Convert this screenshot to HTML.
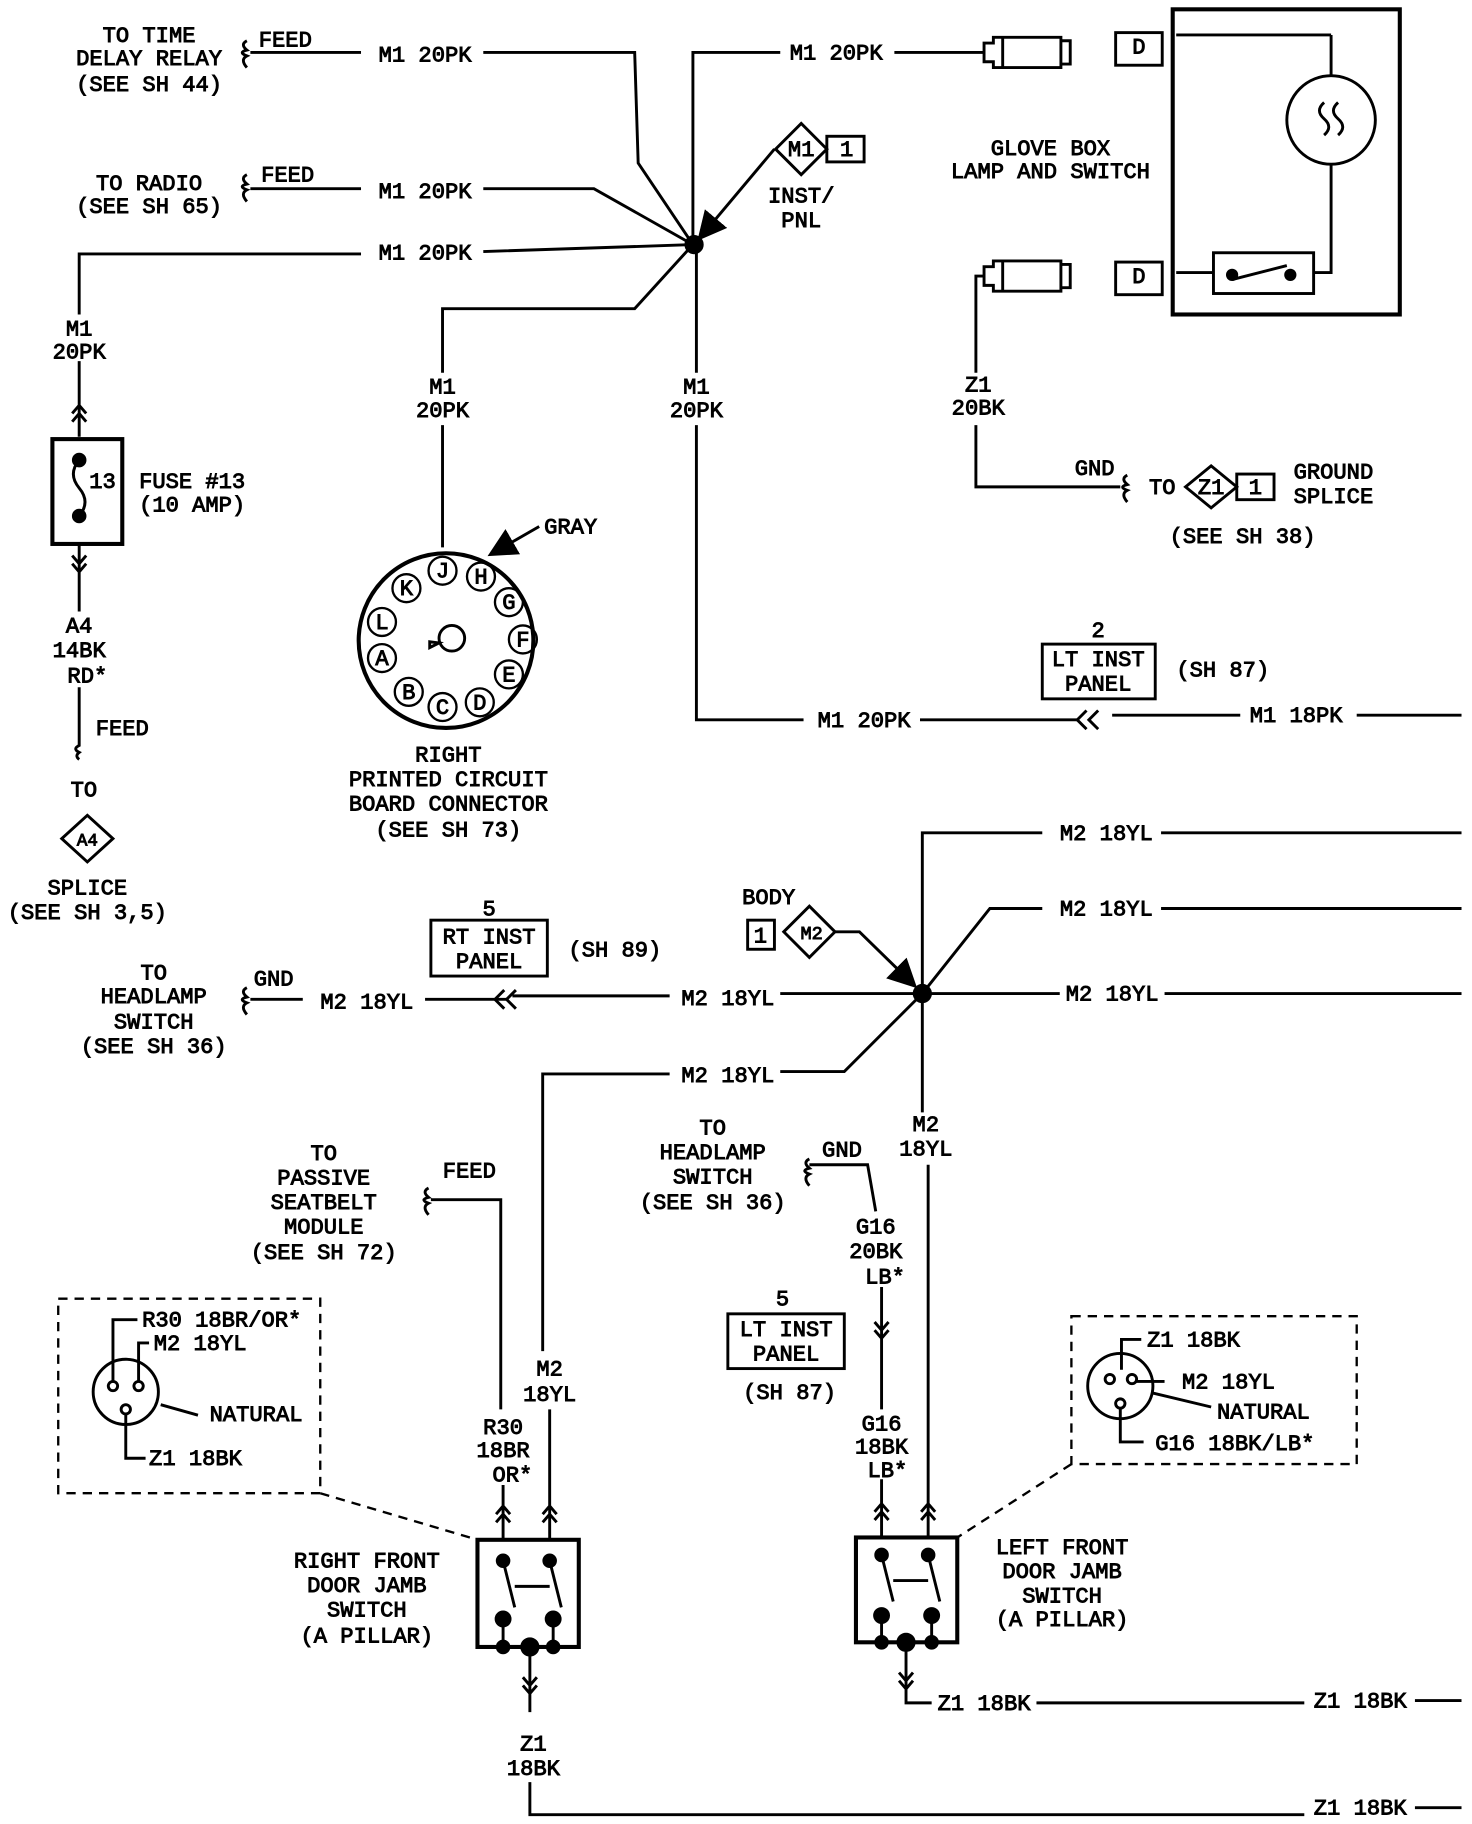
<!DOCTYPE html>
<html><head><meta charset="utf-8"><style>
html,body{margin:0;padding:0;background:#fff;}
svg{display:block}
text{font-family:"Liberation Mono",monospace;font-size:19px;fill:#000;text-anchor:middle;stroke:#000;stroke-width:0.8}
.l{text-anchor:start}
</style></head><body>
<svg width="1472" height="1824" viewBox="0 0 1264 1566" preserveAspectRatio="none" xmlns="http://www.w3.org/2000/svg">
<defs><marker id="ar" markerWidth="10" markerHeight="10" refX="8" refY="5" orient="auto"><path d="M0,0 L10,5 L0,10z"/></marker></defs>
<g fill="none" stroke="#000" stroke-width="2.5">
<path d="M215,45 H310 M415,45 H545 L548,140 L595,210"/>
<path d="M215,162 H310 M415,162 H510 L595,210"/>
<path d="M68,270 V218 H310 M415,216 L595,210"/>
<path d="M595,210 V45 H670 M768,45 H845"/>
<path d="M595,210 L545,265 H380 V320 M380,365 V470"/>
<path d="M598,210 V320 M598,365 V618 H690 M790,618 H925 M955,614 H1065 M1165,614 H1255"/>
<path d="M933,610 l-8,8 l8,8 M943,610 l-8,8 l8,8"/>
<path d="M665,128 L602,203" marker-end="url(#ar)"/>
<path d="M212,35 q-6,3 0,8 q-8,2 0,5 q-6,3 0,10"/>
<path d="M212,150 q-6,3 0,8 q-8,2 0,5 q-6,3 0,10"/>
<rect x="1007" y="8" width="195" height="262" stroke-width="3.5"/>
<circle cx="1143" cy="103" r="38"/>
<path d="M1143,30 H1010 M1143,65 V30 M1143,141 V234 H1128 M1042,234 H1010"/>
<rect x="1042" y="217" width="86" height="35"/>
<path d="M1058,240 L1105,228"/><circle cx="1058" cy="236" r="4" fill="#000"/><circle cx="1108" cy="236" r="4" fill="#000"/>
<path d="M1137,88 q-8,7 0,14 q8,7 0,14 M1149,88 q-8,7 0,14 q8,7 0,14"/>
<rect x="958" y="28" width="40" height="28"/><rect x="958" y="225" width="40" height="28"/>
<path d="M845,37 h8 v-5 h8 v26 h-8 v-5 h-8z M861,32 h50 v26 h-50 M911,35 h8 v20 h-8"/>
<path d="M845,229 h8 v-5 h8 v26 h-8 v-5 h-8z M861,224 h50 v26 h-50 M911,227 h8 v20 h-8"/>
<path d="M845,237 H838 V320 M838,365 V418 H962 M968,408 q-6,3 0,8 q-8,2 0,5 q-6,3 0,10"/>
<path d="M1040,400 L1062,418 L1040,436 L1018,418Z"/><rect x="1062" y="407" width="32" height="22"/>
<path d="M688,106 L710,128 L688,150 L666,128Z"/><rect x="710" y="117" width="32" height="22"/>
<path d="M68,310 V375 M62,355 l6,-7 l6,7 M62,362 l6,-7 l6,7"/>
<rect x="45" y="377" width="60" height="90" stroke-width="3.5"/>
<path d="M68,395 q-10,12 0,24 q10,12 0,24"/><circle cx="68" cy="395" r="5" fill="#000"/><circle cx="68" cy="443" r="5" fill="#000"/>
<path d="M68,467 V525 M62,477 l6,7 l6,-7 M62,484 l6,7 l6,-7 M68,590 V640 q-6,3 0,6 q-4,3 0,6"/>
<path d="M75,700 L97,720 L75,740 L53,720Z"/>
<circle cx="383" cy="550" r="75" stroke-width="3.5"/>
<circle cx="388" cy="548" r="11"/><path d="M377,552 l-8,4 v-5z"/>
<g stroke-width="2">
<circle cx="380" cy="490" r="12"/><circle cx="413" cy="495" r="12"/><circle cx="437" cy="517" r="12"/><circle cx="449" cy="549" r="12"/><circle cx="437" cy="579" r="12"/><circle cx="412" cy="603" r="12"/><circle cx="380" cy="607" r="12"/><circle cx="351" cy="594" r="12"/><circle cx="328" cy="565" r="12"/><circle cx="328" cy="534" r="12"/><circle cx="349" cy="505" r="12"/>
</g>
<path d="M463,452 L423,475" marker-end="url(#ar)"/>
<rect x="895" y="553" width="97" height="47"/>
<path d="M792,853 V715 H895 M997,715 H1255"/>
<path d="M792,853 L850,780 H895 M997,780 H1255"/>
<path d="M792,853 H910 M1000,853 H1255"/>
<path d="M792,853 H670 M575,855 H440 M365,858 H435 M260,858 H215"/>
<path d="M433,850 l-8,8 l8,8 M443,850 l-8,8 l8,8"/>
<path d="M212,848 q-6,3 0,8 q-8,2 0,5 q-6,3 0,10"/>
<rect x="370" y="790" width="100" height="48"/>
<rect x="642" y="790" width="23" height="25"/><path d="M695,778 L717,800 L695,822 L673,800Z"/>
<path d="M717,800 L738,800 L784,845" marker-end="url(#ar)"/>
<circle cx="792" cy="853" r="7" fill="#000"/><circle cx="596" cy="210" r="7" fill="#000"/>
<path d="M792,853 L725,920 H670 M575,922 H466 V1160 M472,1210 V1322 M466,1300 l6,-7 l6,7 M466,1307 l6,-7 l6,7"/>
<path d="M792,853 V955 M797,1000 V1320 M791,1298 l6,-7 l6,7 M791,1305 l6,-7 l6,7"/>
<path d="M695,1000 H745 L752,1040 M695,995 q-6,3 0,8 q-8,2 0,5 q-6,3 0,10"/>
<path d="M757,1105 V1210 M751,1135 l6,7 l6,-7 M751,1142 l6,7 l6,-7 M757,1270 V1320 M751,1298 l6,-7 l6,7 M751,1305 l6,-7 l6,7"/>
<rect x="625" y="1128" width="100" height="47"/>
<path d="M370,1030 H430 V1210 M432,1275 V1322 M426,1300 l6,-7 l6,7 M426,1307 l6,-7 l6,7 M368,1020 q-6,3 0,8 q-8,2 0,5 q-6,3 0,10"/>
<g stroke-dasharray="8,6" stroke-width="2"><rect x="50" y="1115" width="225" height="167"/><rect x="920" y="1130" width="245" height="127"/><path d="M275,1282 L410,1322 M920,1257 L822,1320"/></g>
<circle cx="108" cy="1195" r="28"/><circle cx="97" cy="1190" r="4"/><circle cx="119" cy="1190" r="4"/><circle cx="108" cy="1210" r="4"/>
<path d="M97,1186 V1133 H118 M119,1186 V1153 H128 M108,1214 V1252 H125 M170,1215 L138,1206" />
<circle cx="962" cy="1190" r="28"/><circle cx="953" cy="1184" r="4"/><circle cx="972" cy="1184" r="4"/><circle cx="962" cy="1205" r="4"/>
<path d="M963,1176 V1150 H980 M976,1186 H1000 M1040,1208 L990,1196 M962,1209 V1238 H982"/>
<rect x="410" y="1322" width="87" height="92" stroke-width="3.5"/>
<rect x="735" y="1320" width="87" height="90" stroke-width="3.5"/>
<g fill="#000"><circle cx="432" cy="1340" r="5"/><circle cx="472" cy="1340" r="5"/><circle cx="432" cy="1390" r="6"/><circle cx="475" cy="1390" r="6"/><circle cx="432" cy="1414" r="5"/><circle cx="455" cy="1414" r="7"/><circle cx="475" cy="1414" r="5"/>
<circle cx="757" cy="1335" r="5"/><circle cx="797" cy="1335" r="5"/><circle cx="757" cy="1387" r="6"/><circle cx="800" cy="1387" r="6"/><circle cx="757" cy="1410" r="5"/><circle cx="778" cy="1410" r="7"/><circle cx="800" cy="1410" r="5"/></g>
<path d="M432,1340 L442,1380 M472,1340 L482,1380 M432,1390 V1414 M475,1390 V1414 M442,1362 H472" />
<path d="M757,1335 L767,1375 M797,1335 L807,1375 M757,1387 V1410 M800,1387 V1410 M767,1357 H797"/>
<path d="M455,1414 V1470 M449,1440 l6,7 l6,-7 M449,1447 l6,7 l6,-7 M455,1530 V1558 H1120 M1215,1552 H1255"/>
<path d="M778,1410 V1462 H800 M772,1436 l6,7 l6,-7 M772,1443 l6,7 l6,-7 M890,1462 H1120 M1215,1460 H1255"/>
</g>
<text x="128" y="36">TO TIME</text><text x="128" y="56">DELAY RELAY</text><text x="128" y="78">(SEE SH 44)</text>
<text x="245" y="40">FEED</text><text x="365" y="53">M1 20PK</text>
<text x="128" y="163">TO RADIO</text><text x="128" y="183">(SEE SH 65)</text>
<text x="247" y="156">FEED</text><text x="365" y="170">M1 20PK</text><text x="365" y="223">M1 20PK</text>
<text x="718" y="51">M1 20PK</text>
<text x="688" y="134">M1</text><text x="727" y="134">1</text><text x="688" y="174">INST/</text><text x="688" y="195">PNL</text>
<text x="902" y="133">GLOVE BOX</text><text x="902" y="153">LAMP AND SWITCH</text>
<text x="978" y="46">D</text><text x="978" y="243">D</text>
<text x="380" y="338">M1</text><text x="380" y="358">20PK</text>
<text x="598" y="338">M1</text><text x="598" y="358">20PK</text>
<text x="840" y="336">Z1</text><text x="840" y="356">20BK</text>
<text x="940" y="408">GND</text><text x="998" y="424">TO</text><text x="1040" y="424">Z1</text><text x="1078" y="424">1</text>
<text x="1145" y="411">GROUND</text><text x="1145" y="432">SPLICE</text><text x="1067" y="466">(SEE SH 38)</text>
<text x="68" y="288">M1</text><text x="68" y="308">20PK</text>
<text x="88" y="419">13</text><text x="165" y="419">FUSE #13</text><text x="165" y="439">(10 AMP)</text>
<text x="68" y="543">A4</text><text x="68" y="564">14BK</text><text x="75" y="586">RD*</text>
<text x="105" y="631">FEED</text><text x="72" y="684">TO</text><text x="75" y="726" style="font-size:15px">A4</text>
<text x="75" y="768">SPLICE</text><text x="75" y="789">(SEE SH 3,5)</text>
<text x="490" y="458">GRAY</text>
<g style="font-size:16px"><text x="380" y="496">J</text><text x="413" y="501">H</text><text x="437" y="523">G</text><text x="449" y="555">F</text><text x="437" y="585">E</text><text x="412" y="609">D</text><text x="380" y="613">C</text><text x="351" y="600">B</text><text x="328" y="571">A</text><text x="328" y="540">L</text><text x="349" y="511">K</text></g>
<text x="385" y="654">RIGHT</text><text x="385" y="675">PRINTED CIRCUIT</text><text x="385" y="696">BOARD CONNECTOR</text><text x="385" y="718">(SEE SH 73)</text>
<text x="943" y="547">2</text><text x="943" y="572">LT INST</text><text x="943" y="593">PANEL</text><text x="1050" y="581">(SH 87)</text>
<text x="742" y="624">M1 20PK</text><text x="1113" y="620">M1 18PK</text>
<text x="950" y="721">M2 18YL</text><text x="950" y="786">M2 18YL</text><text x="955" y="859">M2 18YL</text>
<text x="660" y="776">BODY</text><text x="653" y="809">1</text><text x="697" y="806" style="font-size:16px">M2</text>
<text x="420" y="786">5</text><text x="420" y="810">RT INST</text><text x="420" y="831">PANEL</text><text x="528" y="821">(SH 89)</text>
<text x="625" y="863">M2 18YL</text><text x="315" y="866">M2 18YL</text><text x="235" y="846">GND</text>
<text x="132" y="841">TO</text><text x="132" y="861">HEADLAMP</text><text x="132" y="883">SWITCH</text><text x="132" y="904">(SEE SH 36)</text>
<text x="625" y="929">M2 18YL</text>
<text x="795" y="971">M2</text><text x="795" y="992">18YL</text>
<text x="612" y="974">TO</text><text x="612" y="995">HEADLAMP</text><text x="612" y="1016">SWITCH</text><text x="612" y="1038">(SEE SH 36)</text>
<text x="723" y="993">GND</text>
<text x="752" y="1059">G16</text><text x="752" y="1080">20BK</text><text x="760" y="1102">LB*</text>
<text x="672" y="1121">5</text><text x="675" y="1147">LT INST</text><text x="675" y="1168">PANEL</text><text x="678" y="1201">(SH 87)</text>
<text x="757" y="1228">G16</text><text x="757" y="1248">18BK</text><text x="762" y="1268">LB*</text>
<text x="278" y="996">TO</text><text x="278" y="1017">PASSIVE</text><text x="278" y="1038">SEATBELT</text><text x="278" y="1059">MODULE</text><text x="278" y="1081">(SEE SH 72)</text>
<text x="403" y="1011">FEED</text>
<text x="472" y="1181">M2</text><text x="472" y="1203">18YL</text>
<text x="432" y="1231">R30</text><text x="432" y="1251">18BR</text><text x="440" y="1272">OR*</text>
<text class="l" x="122" y="1139">R30 18BR/OR*</text><text class="l" x="132" y="1159">M2 18YL</text>
<text class="l" x="180" y="1220">NATURAL</text><text class="l" x="128" y="1258">Z1 18BK</text>
<text class="l" x="985" y="1156">Z1 18BK</text><text class="l" x="1015" y="1192">M2 18YL</text><text class="l" x="1045" y="1218">NATURAL</text><text class="l" x="992" y="1245">G16 18BK/LB*</text>
<text x="315" y="1346">RIGHT FRONT</text><text x="315" y="1367">DOOR JAMB</text><text x="315" y="1388">SWITCH</text><text x="315" y="1410">(A PILLAR)</text>
<text x="912" y="1334">LEFT FRONT</text><text x="912" y="1355">DOOR JAMB</text><text x="912" y="1376">SWITCH</text><text x="912" y="1396">(A PILLAR)</text>
<text x="458" y="1503">Z1</text><text x="458" y="1524">18BK</text>
<text x="845" y="1468">Z1 18BK</text><text x="1168" y="1466">Z1 18BK</text><text x="1168" y="1558">Z1 18BK</text>
</svg>
</body></html>
